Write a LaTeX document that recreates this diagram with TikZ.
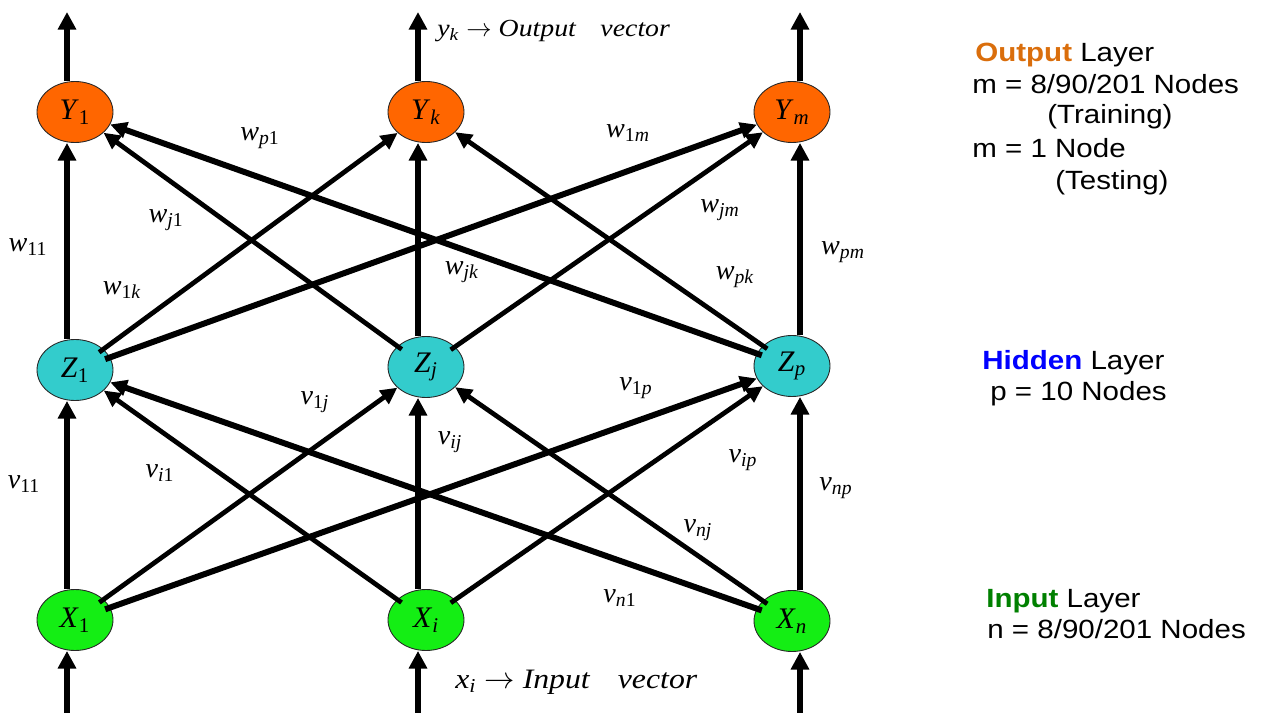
\documentclass[tikz,border=0pt]{standalone}
\usepackage{fontspec}
\setmainfont{Liberation Serif}
\newfontfamily\arialfont[FakeStretch=1.12]{Liberation Sans}
\newfontfamily\vecfont[FakeStretch=1.13]{Liberation Serif}
\usetikzlibrary{arrows.meta,shapes.geometric}
\definecolor{outorange}{RGB}{255,102,0}
\definecolor{hidcyan}{RGB}{51,204,204}
\definecolor{ingreen}{RGB}{20,238,20}
\definecolor{outtext}{RGB}{218,110,12}
\definecolor{intext}{RGB}{0,128,0}
\newcommand{\wsub}[2]{\textit{#1}\textsubscript{#2}}
\begin{document}
\begin{tikzpicture}[x=0.02cm, y=-0.02cm,
    neuron/.style={ellipse, draw=black!85, line width=0.5pt, minimum width=1.52cm,
      minimum height=1.22cm, inner sep=0pt, font=\fontsize{17}{20}\selectfont},
    outnode/.style={neuron, fill=outorange},
    hidnode/.style={neuron, fill=hidcyan},
    innode/.style={neuron, fill=ingreen},
    vert/.style={line width=3.6pt, -{Triangle[length=10pt,width=10pt]}},
    link/.style={line width=2.7pt, shorten <=-3pt, -{Triangle[length=9.5pt,width=9pt]}},
    biglink/.style={link, line width=3.4pt},
    wlabel/.style={inner sep=0pt, font=\fontsize{16}{19}\selectfont},
    veclabel/.style={anchor=base west, inner sep=0pt},
    legend/.style={anchor=base west, inner sep=0pt, font=\arialfont\fontsize{15}{18}\selectfont}]
    \useasboundingbox (0,0) rectangle (1261,713);
    % neurons
    \node[innode] (X1) at (75,620) {\wsub{X}{1}};
    \node[innode] (Xi) at (426,620) {\wsub{X}{\textit{i}}};
    \node[innode] (Xn) at (792,621) {\wsub{X}{\textit{n}}};
    \node[hidnode] (Z1) at (75,370) {\wsub{Z}{1}};
    \node[hidnode] (Zj) at (426,367) {\wsub{Z}{\textit{j}}};
    \node[hidnode] (Zp) at (792,366) {\wsub{Z}{\textit{p}}};
    \node[outnode] (Y1) at (75,112) {\wsub{Y}{1}};
    \node[outnode] (Yk) at (426,112) {\wsub{Y}{\textit{k}}};
    \node[outnode] (Ym) at (792,112) {\wsub{Y}{\textit{m}}};
    % free ends of the vertical arrows
    \coordinate (in1) at (67,713);
    \coordinate (ini) at (418,713);
    \coordinate (inn) at (800,713);
    \coordinate (out1) at (67,12);
    \coordinate (outk) at (418,12);
    \coordinate (outm) at (800,12);
    % vertical arrows
    \draw[vert] (in1) -- (X1.south -| in1);
    \draw[vert] (ini) -- (Xi.south -| ini);
    \draw[vert] (inn) -- (Xn.south -| inn);
    \draw[vert] (X1.north -| in1) -- (Z1.south -| in1);
    \draw[vert] (Xi.north -| ini) -- (Zj.south -| ini);
    \draw[vert] (Xn.north -| inn) -- (Zp.south -| inn);
    \draw[vert] (Z1.north -| in1) -- (Y1.south -| in1);
    \draw[vert] (Zj.north -| ini) -- (Yk.south -| ini);
    \draw[vert] (Zp.north -| inn) -- (Ym.south -| inn);
    \draw[vert] (Y1.north -| out1) -- (out1);
    \draw[vert] (Yk.north -| outk) -- (outk);
    \draw[vert] (Ym.north -| outm) -- (outm);
    % input to hidden
    \draw[link] (X1) -- (Zj);
    \draw[biglink] (X1) -- (Zp);
    \draw[link] (Xi) -- (Z1);
    \draw[link] (Xi) -- (Zp);
    \draw[biglink] (Xn) -- (Z1);
    \draw[link] (Xn) -- (Zj);
    % hidden to output
    \draw[link] (Z1) -- (Yk);
    \draw[biglink] (Z1) -- (Ym);
    \draw[link] (Zj) -- (Y1);
    \draw[link] (Zj) -- (Ym);
    \draw[biglink] (Zp) -- (Y1);
    \draw[link] (Zp) -- (Yk);
    % weights
    \node[wlabel] (w11) at (28,247) {\wsub{w}{11}};
    \node[wlabel] (w1k) at (122,290) {\wsub{w}{1\textit{k}}};
    \node[wlabel] (wj1) at (166,220) {\wsub{w}{\textit{j}1}};
    \node[wlabel] (wp1) at (260,138) {\wsub{w}{\textit{p}1}};
    \node[wlabel] (w1m) at (628,133) {\wsub{w}{1\textit{m}}};
    \node[wlabel] (wjk) at (462,272) {\wsub{w}{\textit{jk}}};
    \node[wlabel] (wjm) at (720,210) {\wsub{w}{\textit{jm}}};
    \node[wlabel] (wpk) at (735,277) {\wsub{w}{\textit{pk}}};
    \node[wlabel] (wpm) at (843,252) {\wsub{w}{\textit{pm}}};
    \node[wlabel] (v11) at (24,484) {\wsub{v}{11}};
    \node[wlabel] (vi1) at (160,473) {\wsub{v}{\textit{i}1}};
    \node[wlabel] (v1j) at (315,402) {\wsub{v}{1\textit{j}}};
    \node[wlabel] (vij) at (450,442) {\wsub{v}{\textit{ij}}};
    \node[wlabel] (v1p) at (636,388) {\wsub{v}{1\textit{p}}};
    \node[wlabel] (vip) at (743,460) {\wsub{v}{\textit{ip}}};
    \node[wlabel] (vnj) at (698,530) {\wsub{v}{\textit{nj}}};
    \node[wlabel] (vnp) at (836,488) {\wsub{v}{\textit{np}}};
    \node[wlabel] (vn1) at (620,598) {\wsub{v}{\textit{n}1}};
    % vectors
    \node[veclabel, font=\vecfont\fontsize{14}{17}\selectfont] (outvec) at (437,37)
      {\wsub{y}{\textit{k}} $\rightarrow$ \textit{Output\quad vector}};
    \node[veclabel, font=\vecfont\fontsize{16}{19}\selectfont] (invec) at (455,688)
      {\wsub{x}{\textit{i}} $\rightarrow$ \textit{Input\quad vector}};
    % layer legend
    \node[legend] (outhead) at (975,62) {\textcolor{outtext}{\textbf{Output}} Layer};
    \node[legend] (outcount) at (972,93) {m = 8/90/201 Nodes};
    \node[legend] (outtrain) at (1047,124) {(Training)};
    \node[legend] (outone) at (972,157) {m = 1 Node};
    \node[legend] (outtest) at (1055,189) {(Testing)};
    \node[legend] (hidhead) at (982,369) {\textcolor{blue}{\textbf{Hidden}} Layer};
    \node[legend] (hidcount) at (990,400) {p = 10 Nodes};
    \node[legend] (inhead) at (986,607) {\textcolor{intext}{\textbf{Input}} Layer};
    \node[legend] (incount) at (987,638) {n = 8/90/201 Nodes};
\end{tikzpicture}
\end{document}
